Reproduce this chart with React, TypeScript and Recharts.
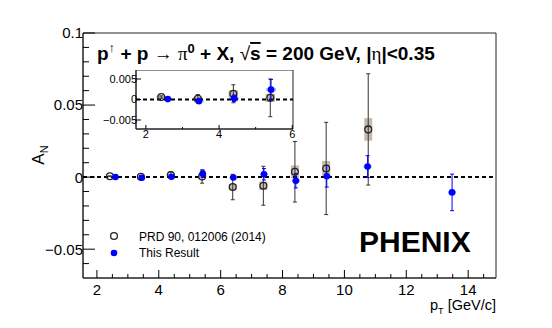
import { ScatterChart, Scatter, XAxis, YAxis, ErrorBar, ReferenceArea, ReferenceLine } from "recharts"

// PRD 90, 012006 (2014)
const prdPt = [2.42, 3.42, 4.39, 5.4, 6.39, 7.38, 8.4, 9.41, 10.77]
const prdAn = [0.0006, 0.0002, 0.0014, 0.0004, -0.0069, -0.006, 0.0037, 0.006, 0.0331]
const prdStat = [0.0003, 0.001, 0.0022, 0.0046, 0.0088, 0.0135, 0.021, 0.032, 0.0386]
const prdSys = [0.0003, 0.0004, 0.0008, 0.001, 0.0021, 0.0029, 0.0044, 0.0052, 0.0078]

// This Result
const newPt = [2.6, 3.45, 4.41, 5.42, 6.41, 7.4, 8.43, 9.43, 10.75, 13.48]
const newAn = [0.0001, -0.0004, 0.0003, 0.0024, -0.0003, 0.002, -0.0025, 0.0006, 0.0073, -0.0106]
const newStat = [0.0004, 0.0005, 0.0008, 0.0025, 0.001, 0.004, 0.005, 0.0075, 0.0076, 0.0127]
const newSys = [0.0003, 0.0003, 0.0003, 0.0004, 0.0005, 0.0006, 0.0008, 0.0008, 0.001, 0.001]

// axes
const xDomain = [1.55, 14.9]
const yDomain = [-0.07, 0.1]
const xMajor = [2, 4, 6, 8, 10, 12, 14]
const xLabels = ["2", "4", "6", "8", "10", "12", "14"]
const xTicks = [2, 2.5, 3, 3.5, 4, 4.5, 5, 5.5, 6, 6.5, 7, 7.5, 8, 8.5, 9, 9.5, 10, 10.5, 11, 11.5, 12, 12.5, 13, 13.5, 14, 14.5]
const yMajor = [-0.05, 0, 0.05, 0.1]
const yLabels = ["\u22120.05", "0", "0.05", "0.1"]
const yTicks = [-0.06, -0.05, -0.04, -0.03, -0.02, -0.01, 0, 0.01, 0.02, 0.03, 0.04, 0.05, 0.06, 0.07, 0.08, 0.09, 0.1]

// inset axes
const inXDomain = [1.73, 6.02]
const inYDomain = [-0.0072, 0.0072]
const inXMajor = [2, 4, 6]
const inXLabels = ["2", "4", "6"]
const inXTicks = [2, 3, 4, 5, 6]
const inYMajor = [-0.005, 0, 0.005]
const inYLabels = ["\u22120.005", "0", "0.005"]
const inYTicks = [-0.005, 0, 0.005]
const insetMaxPt = 6

const BOX_HALF = 0.13
const GAP = 4

const prd = prdPt.map((pt, i) => ({ pt, an: prdAn[i], stat: prdStat[i], sys: prdSys[i] }))
const fresh = newPt.map((pt, i) => ({ pt, an: newAn[i], stat: newStat[i], sys: newSys[i] }))

const isMajor = (list: number[], v: number) => list.findIndex(m => Math.abs(m - v) < 1e-9)

function yTick(majors: number[], labels: string[], majorLen: number, minorLen: number, fontSize: number, gap: number) {
  return (p: any) => {
    const v = p.payload.value
    const axisX = p.x + GAP
    const i = isMajor(majors, v)
    return (
      <g>
        <line x1={axisX} x2={axisX + (i >= 0 ? majorLen : minorLen)} y1={p.y} y2={p.y} stroke="#000" />
        {i >= 0 && (
          <text x={axisX - gap} y={p.y + fontSize * 0.36} textAnchor="end" fontSize={fontSize} fill="#000">
            {labels[i]}
          </text>
        )}
      </g>
    )
  }
}

function xTick(majors: number[], labels: string[], majorLen: number, minorLen: number, fontSize: number, drop: number) {
  return (p: any) => {
    const v = p.payload.value
    const axisY = p.y - GAP
    const i = isMajor(majors, v)
    return (
      <g>
        <line x1={p.x} x2={p.x} y1={axisY} y2={axisY - (i >= 0 ? majorLen : minorLen)} stroke="#000" />
        {i >= 0 && (
          <text x={p.x} y={axisY + drop} textAnchor="middle" fontSize={fontSize} fill="#000">
            {labels[i]}
          </text>
        )}
      </g>
    )
  }
}

const openDot = (p: any) => <circle cx={p.cx} cy={p.cy} r={3.4} fill="none" stroke="#222" strokeWidth={1.3} />
const blueDot = (p: any) => <circle cx={p.cx} cy={p.cy} r={3.3} fill="#0000ff" />

function boxes(rows: typeof prd, fill: string, opacity: number, prefix: string) {
  return rows.map((r, i) => (
    <ReferenceArea
      key={prefix + i}
      x1={r.pt - BOX_HALF}
      x2={r.pt + BOX_HALF}
      y1={r.an - r.sys}
      y2={r.an + r.sys}
      fill={fill}
      fillOpacity={opacity}
      stroke="none"
      ifOverflow="visible"
    />
  ))
}

function MainChart() {
  return (
    <ScatterChart width={552} height={328} margin={{ top: 33, right: 56, bottom: 0, left: 0 }}>
      <XAxis
        type="number"
        dataKey="pt"
        domain={xDomain}
        ticks={xTicks}
        interval={0}
        allowDataOverflow
        tickSize={0}
        tickMargin={GAP}
        tickLine={false}
        height={50}
        axisLine={{ stroke: "#222" }}
        tick={xTick(xMajor, xLabels, 8, 4, 15, 17)}
      />
      <YAxis
        type="number"
        domain={yDomain}
        ticks={yTicks}
        interval={0}
        allowDataOverflow
        tickSize={0}
        tickMargin={GAP}
        tickLine={false}
        width={83}
        axisLine={{ stroke: "#222" }}
        tick={yTick(yMajor, yLabels, 12, 6, 15, 0)}
      />
      <ReferenceArea x1={xDomain[0]} x2={xDomain[1]} y1={yDomain[0]} y2={yDomain[1]} fill="none" stroke="#222" />
      {boxes(prd, "#c5bab0", 1, "pb")}
      {boxes(fresh, "#8f9dff", 0.8, "nb")}
      <ReferenceLine y={0} stroke="#000" strokeWidth={2} strokeDasharray="4 3" />
      <Scatter data={prd} dataKey="an" shape={openDot} isAnimationActive={false}>
        <ErrorBar dataKey="stat" direction="y" width={2} stroke="#333" strokeWidth={1} />
      </Scatter>
      <Scatter data={fresh} dataKey="an" shape={blueDot} isAnimationActive={false}>
        <ErrorBar dataKey="stat" direction="y" width={2} stroke="#0000ff" strokeWidth={1} />
      </Scatter>
    </ScatterChart>
  )
}

function InsetChart() {
  const p = prd.filter(r => r.pt < insetMaxPt)
  const f = fresh.filter(r => r.pt < insetMaxPt)
  return (
    <ScatterChart width={210} height={76} margin={{ top: 0, right: 3, bottom: 0, left: 0 }}>
      <XAxis
        type="number"
        dataKey="pt"
        domain={inXDomain}
        ticks={inXTicks}
        interval={0}
        allowDataOverflow
        tickSize={0}
        tickMargin={GAP}
        tickLine={false}
        height={17}
        axisLine={{ stroke: "#222" }}
        tick={xTick(inXMajor, inXLabels, 4, 2, 11, 8.5)}
      />
      <YAxis
        type="number"
        domain={inYDomain}
        ticks={inYTicks}
        interval={0}
        allowDataOverflow
        tickSize={0}
        tickMargin={GAP}
        tickLine={false}
        width={50}
        axisLine={{ stroke: "#222" }}
        tick={yTick(inYMajor, inYLabels, 5, 3, 11, -1)}
      />
      <ReferenceArea x1={inXDomain[0]} x2={inXDomain[1]} y1={inYDomain[0]} y2={inYDomain[1]} fill="#fff" stroke="#222" />
      {boxes(p, "#c5bab0", 1, "ipb")}
      {boxes(f, "#8f9dff", 0.8, "inb")}
      <ReferenceLine y={0} stroke="#000" strokeWidth={2} strokeDasharray="4 3" />
      <Scatter data={p} dataKey="an" shape={openDot} isAnimationActive={false}>
        <ErrorBar dataKey="stat" direction="y" width={2} stroke="#333" strokeWidth={1} />
      </Scatter>
      <Scatter data={f} dataKey="an" shape={blueDot} isAnimationActive={false}>
        <ErrorBar dataKey="stat" direction="y" width={2} stroke="#0000ff" strokeWidth={1} />
      </Scatter>
    </ScatterChart>
  )
}

function Labels() {
  return (
    <svg width={552} height={328} style={{ position: "absolute", left: 0, top: 0, pointerEvents: "none" }}>
      <text x={97} y={60} fontSize={19} fontWeight="bold" fill="#000">
        <tspan>p</tspan>
        <tspan dy={-8} fontSize={13} fontWeight="normal">↑</tspan>
        <tspan dy={8}> + p </tspan>
        <tspan fontWeight="normal">→ </tspan>
        <tspan fontWeight="normal" fontFamily="Liberation Serif">π</tspan>
        <tspan dy={-7} fontSize={13}>0</tspan>
        <tspan dy={7}> + X, </tspan>
        <tspan fontWeight="normal">√</tspan>
        <tspan textDecoration="overline">s</tspan>
        <tspan> = 200 GeV, |</tspan>
        <tspan fontWeight="normal" fontFamily="Liberation Serif">η</tspan>
        <tspan>|&lt;0.35</tspan>
      </text>
      <text x={359} y={252} fontSize={30} fontWeight="bold" fill="#000">PHENIX</text>
      <circle cx={114} cy={236} r={3.4} fill="none" stroke="#222" strokeWidth={1.3} />
      <text x={139} y={240.5} fontSize={12} fill="#000">PRD 90, 012006 (2014)</text>
      <circle cx={114} cy={253} r={3.3} fill="#0000ff" />
      <text x={139} y={257} fontSize={12} fill="#000">This Result</text>
      <text x={496} y={310} fontSize={14.5} textAnchor="end" fill="#000">
        <tspan>p</tspan>
        <tspan dy={4} fontSize={9}>T</tspan>
        <tspan dy={-4}> [GeV/c]</tspan>
      </text>
      <text transform="translate(44,155) rotate(-90)" fontSize={17} textAnchor="middle" fill="#000">
        <tspan>A</tspan>
        <tspan dy={4} fontSize={11}>N</tspan>
      </text>
    </svg>
  )
}

export default function App() {
  return (
    <div style={{ position: "absolute", left: 0, top: 0, width: 552, height: 328, background: "#fff", fontFamily: "'Liberation Sans', Arial, sans-serif" }}>
      <MainChart />
      <div style={{ position: "absolute", left: 86, top: 70 }}>
        <InsetChart />
      </div>
      <Labels />
    </div>
  )
}
